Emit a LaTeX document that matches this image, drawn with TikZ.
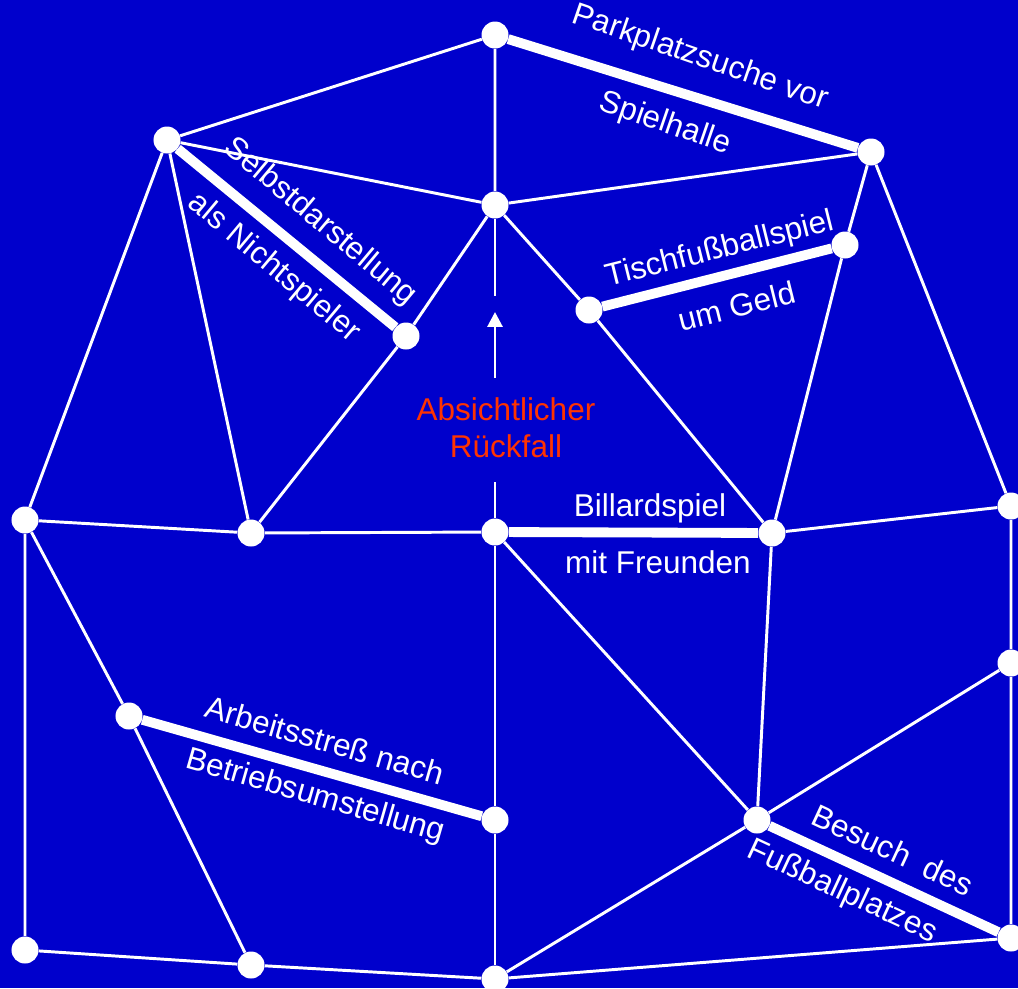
\documentclass[tikz,border=0pt]{standalone}
\usepackage{fontspec}
\setmainfont{Liberation Sans}
\usetikzlibrary{arrows.meta, positioning}
\definecolor{bgblue}{RGB}{0,0,204}
\definecolor{lapsered}{RGB}{255,51,0}

\begin{document}
\begin{tikzpicture}[x=0.025cm, y=-0.025cm,
    dot/.style={circle, fill=white, inner sep=0pt, minimum size=0.675cm},
    edge/.style={white, line width=2.1pt},
    riskedge/.style={white, line width=7pt},
    lbl/.style={white, inner sep=0pt, font=\fontsize{22.4}{26.3}\selectfont}]

    \fill[bgblue] (0,0) rectangle (1018,988);
    \useasboundingbox (0,0) rectangle (1018,988);

    % situations
    \node[dot] (A) at (495,35) {};
    \node[dot] (B) at (495,205) {};
    \node[dot] (C) at (167,140) {};
    \node[dot] (D) at (406,336) {};
    \node[dot] (E) at (589,310) {};
    \node[dot] (F) at (845,245) {};
    \node[dot] (G) at (871,152) {};
    \node[dot] (H) at (25,520) {};
    \node[dot] (I) at (251,533) {};
    \node[dot] (J) at (495,532) {};
    \node[dot] (K) at (772,533) {};
    \node[dot] (L) at (1011,506) {};
    \node[dot] (M) at (1011,663) {};
    \node[dot] (N) at (129,716) {};
    \node[dot] (O) at (495,820) {};
    \node[dot] (P) at (757,820) {};
    \node[dot] (Q) at (1011,938) {};
    \node[dot] (R) at (25,950) {};
    \node[dot] (S) at (251,965) {};
    \node[dot] (T) at (495,979) {};

    % thin links
    \draw[edge] (C) -- (A) -- (B);
    \draw[edge] (C) -- (B) -- (G);
    \draw[edge] (B) -- (D) -- (I);
    \draw[edge] (B) -- (E) -- (K);
    \draw[edge] (G) -- (F) -- (K);
    \draw[edge] (G) -- (L) -- (M) -- (Q);
    \draw[edge] (C) -- (H);
    \draw[edge] (C) -- (I);
    \draw[edge] (H) -- (I) -- (J);
    \draw[edge] (K) -- (L);
    \draw[edge] (H) -- (N) -- (S);
    \draw[edge] (H) -- (R) -- (S) -- (T);
    \draw[edge] (J) -- (O) -- (T);
    \draw[edge] (J) -- (P) -- (K);
    \draw[edge] (M) -- (P) -- (T) -- (Q);

    % risky links
    \draw[riskedge] (A) -- (G);
    \draw[riskedge] (C) -- (D);
    \draw[riskedge] (E) -- (F);
    \draw[riskedge] (J) -- (K);
    \draw[riskedge] (N) -- (O);
    \draw[riskedge] (P) -- (Q);

    % labels
    \node[lbl, rotate=-19] (park1) at (700,58) {Parkplatzsuche vor};
    \node[lbl, rotate=-19] (park2) at (665,124) {Spielhalle};
    \node[lbl, rotate=-40] (selbst1) at (320,222) {Selbstdarstellung};
    \node[lbl, rotate=-40] (selbst2) at (274,268) {als Nichtspieler};
    \node[lbl, rotate=14] (tisch1) at (720,250) {Tischfußballspiel};
    \node[lbl, rotate=14] (tisch2) at (737,306) {um Geld};
    \node[lbl] (billard1) at (650,508) {Billardspiel};
    \node[lbl] (billard2) at (658,562) {mit Freunden};
    \node[lbl, rotate=-16] (arbeit1) at (325,740) {Arbeitsstreß nach};
    \node[lbl, rotate=-16] (arbeit2) at (315,797) {Betriebsumstellung};
    \node[lbl, rotate=-25] (besuch1) at (893,850) {Besuch\ \ des};
    \node[lbl, rotate=-25] (besuch2) at (842,892) {Fußballplatzes};

    % lapse
    \node[lbl, text=lapsered, align=center] (lapse) at (506,428) {Absichtlicher\\Rückfall};
    \coordinate (gaptop) at (495,296);
    \coordinate (arrowbase) at (495,378);
    \coordinate (arrowtip) at (495,312);
    \coordinate (gapbottom) at (495,482);
    \draw[edge] (B) -- (gaptop);
    \draw[edge, -{Triangle[length=10.5pt, width=10.5pt]}] (arrowbase) -- (arrowtip);
    \draw[edge] (gapbottom) -- (J);

\end{tikzpicture}
\end{document}
